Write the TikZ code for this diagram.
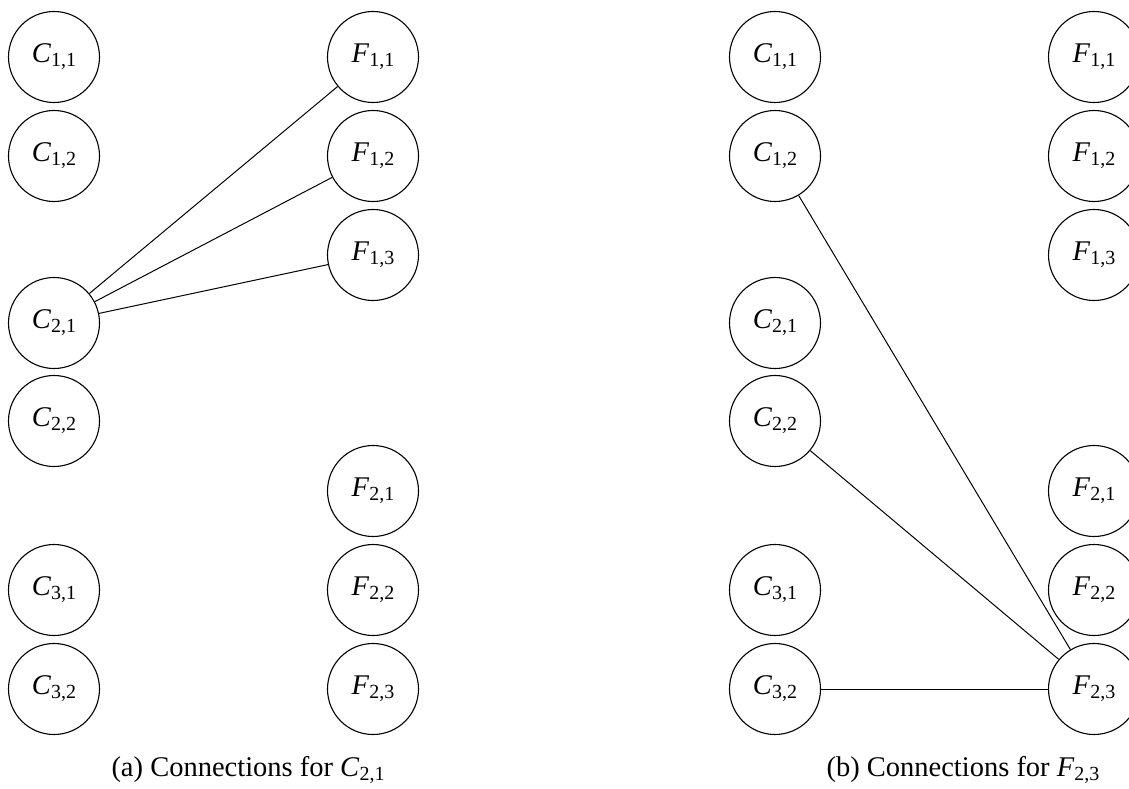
\documentclass[tikz,border=0pt]{standalone}
\usepackage{fontspec}
\setmainfont{Liberation Serif}
\newcommand{\sublbl}[2]{\textit{#1}\raisebox{-4pt}{\fontsize{20}{20}\selectfont #2}}
\begin{document}
\begin{tikzpicture}[x=1pt,y=-1pt,
  every node/.style={font=\fontsize{28.5}{34}\selectfont},
  vert/.style={draw, circle, line width=1.1pt, minimum size=91pt, inner sep=0pt},
  link/.style={line width=1pt}]
\clip (0,0) rectangle (1129,789);
% panel (a)
\node[vert] (ac11) at (54,57)  {\sublbl{C}{1,1}};
\node[vert] (ac12) at (54,156) {\sublbl{C}{1,2}};
\node[vert] (ac21) at (54,323) {\sublbl{C}{2,1}};
\node[vert] (ac22) at (54,421) {\sublbl{C}{2,2}};
\node[vert] (ac31) at (54,590) {\sublbl{C}{3,1}};
\node[vert] (ac32) at (54,689) {\sublbl{C}{3,2}};
\node[vert] (af11) at (373,57)  {\sublbl{F}{1,1}};
\node[vert] (af12) at (373,156) {\sublbl{F}{1,2}};
\node[vert] (af13) at (373,255) {\sublbl{F}{1,3}};
\node[vert] (af21) at (373,491) {\sublbl{F}{2,1}};
\node[vert] (af22) at (373,590) {\sublbl{F}{2,2}};
\node[vert] (af23) at (373,689) {\sublbl{F}{2,3}};
\draw[link] (ac21) -- (af11);
\draw[link] (ac21) -- (af12);
\draw[link] (ac21) -- (af13);
\node[anchor=base] (capa) at (248,776) {(a) Connections for \sublbl{C}{2,1}};
% panel (b)
\node[vert] (bc11) at (775,57)  {\sublbl{C}{1,1}};
\node[vert] (bc12) at (775,156) {\sublbl{C}{1,2}};
\node[vert] (bc21) at (775,323) {\sublbl{C}{2,1}};
\node[vert] (bc22) at (775,421) {\sublbl{C}{2,2}};
\node[vert] (bc31) at (775,590) {\sublbl{C}{3,1}};
\node[vert] (bc32) at (775,689) {\sublbl{C}{3,2}};
\node[vert] (bf11) at (1094,57)  {\sublbl{F}{1,1}};
\node[vert] (bf12) at (1094,156) {\sublbl{F}{1,2}};
\node[vert] (bf13) at (1094,255) {\sublbl{F}{1,3}};
\node[vert] (bf21) at (1094,491) {\sublbl{F}{2,1}};
\node[vert] (bf22) at (1094,590) {\sublbl{F}{2,2}};
\node[vert] (bf23) at (1094,689) {\sublbl{F}{2,3}};
\draw[link] (bf23) -- (bc12);
\draw[link] (bf23) -- (bc22);
\draw[link] (bf23) -- (bc32);
\node[anchor=base] (capb) at (963,776) {(b) Connections for \sublbl{F}{2,3}};
\end{tikzpicture}
\end{document}
